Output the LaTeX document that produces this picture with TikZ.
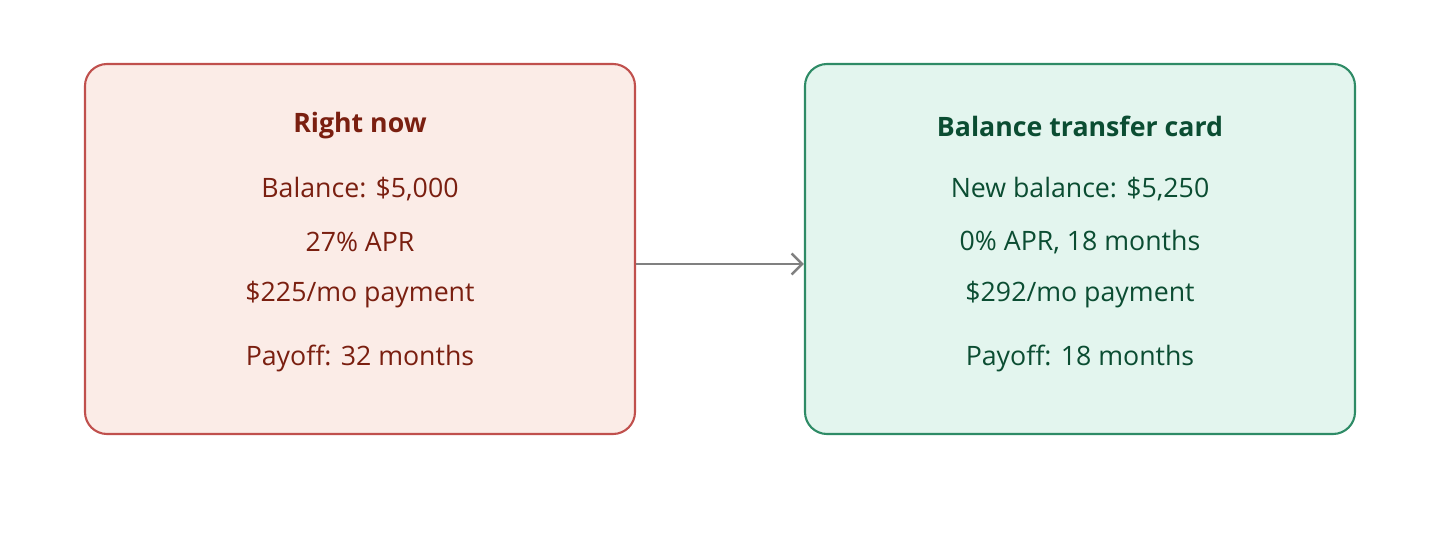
\documentclass[tikz,border=0pt]{standalone}
\usepackage{fontspec}
\setmainfont{Open Sans}
\usetikzlibrary{positioning, arrows.meta}
\definecolor{nowfill}{HTML}{FBECE7}
\definecolor{nowline}{HTML}{C0504D}
\definecolor{nowtext}{HTML}{7A1F10}
\definecolor{cardfill}{HTML}{E3F5EE}
\definecolor{cardline}{HTML}{2E8B66}
\definecolor{cardtext}{HTML}{0B4D32}
\tikzset{
  panel/.style={rounded corners=0.22cm, minimum width=5.5cm, minimum height=3.7cm, line width=0.6pt},
  head/.style={font=\fontsize{7.6pt}{9pt}\selectfont\bfseries},
  item/.style={font=\fontsize{7.6pt}{9pt}\selectfont}
}
\begin{document}
\begin{tikzpicture}
    \useasboundingbox (0,0) rectangle (14.4,5.51);
    % the two panels
    \node[panel, draw=nowline, fill=nowfill] (now) at (3.6,3.02) {};
    \node[panel, draw=cardline, fill=cardfill] (card) at (10.8,3.02) {};
    % left texts
    \node[head, text=nowtext] (nowhead) at (3.6,4.25) {Right now};
    \node[item, text=nowtext] (nowbal) at (3.6,3.62) {Balance: \$5,000};
    \node[item, text=nowtext] (nowapr) at (3.6,3.09) {27\% APR};
    \node[item, text=nowtext] (nowpay) at (3.6,2.56) {\$225/mo payment};
    \node[item, text=nowtext] (nowoff) at (3.6,1.93) {Payoff: 32 months};
    % right texts
    \node[head, text=cardtext] (cardhead) at (10.8,4.25) {Balance transfer card};
    \node[item, text=cardtext] (cardbal) at (10.8,3.62) {New balance: \$5,250};
    \node[item, text=cardtext] (cardapr) at (10.8,3.09) {0\% APR, 18 months};
    \node[item, text=cardtext] (cardpay) at (10.8,2.56) {\$292/mo payment};
    \node[item, text=cardtext] (cardoff) at (10.8,1.93) {Payoff: 18 months};
    % connector
    \draw[line width=0.7pt, gray, -{Straight Barb[length=3pt,width=6pt]}] ([yshift=-0.15cm]now.east) -- ([yshift=-0.15cm]card.west);
\end{tikzpicture}
\end{document}
